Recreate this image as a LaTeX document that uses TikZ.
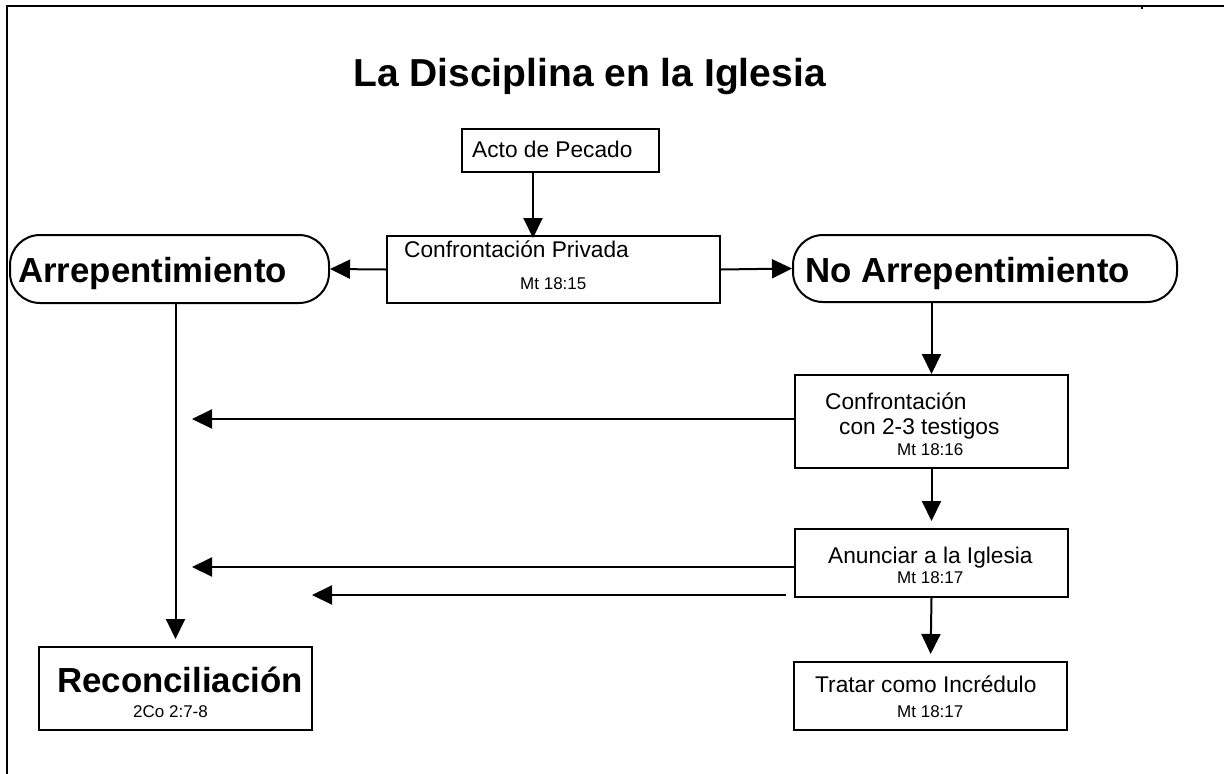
\documentclass[tikz,border=0pt]{standalone}
\usepackage{fontspec}
\setmainfont{Liberation Sans}
\usetikzlibrary{arrows.meta}
\tikzset{
  box/.style={draw, line width=2pt, inner sep=0pt, fill=white},
  rbox/.style={box, rounded corners=30pt},
  conn/.style={line width=2pt, -{Triangle[length=20pt,width=19pt]}},
  txt/.style={inner sep=0pt, anchor=base west, font=\fontsize{22.7}{27}\selectfont},
  ref/.style={inner sep=0pt, anchor=base west, font=\fontsize{17}{20}\selectfont},
  big/.style={inner sep=0pt, anchor=base west, font=\bfseries\fontsize{34.8}{40}\selectfont},
  ttl/.style={inner sep=0pt, anchor=base west, font=\bfseries\fontsize{39}{45}\selectfont}
}
\begin{document}
\begin{tikzpicture}[x=1pt,y=-1pt]
\useasboundingbox (0,0) rectangle (1224,774);
% frame
\draw[line width=2.5pt] (7,774) -- (7,6) -- (1224,6);
\draw[line width=2pt] (1142,6) -- (1142,9);
% title
\node[ttl] (title) at (353,86) {La Disciplina en la Iglesia};
% boxes
\node[box, minimum width=197pt, minimum height=43pt] (acto) at (560.5,150.5) {};
\node[box, minimum width=333pt, minimum height=67pt] (priv) at (553.5,269.5) {};
\node[rbox, minimum width=319pt, minimum height=68pt] (arr) at (169.5,269) {};
\node[rbox, minimum width=384pt, minimum height=67pt] (noarr) at (985,268.5) {};
\node[box, minimum width=273pt, minimum height=93pt] (test) at (931.5,421.5) {};
\node[box, minimum width=273pt, minimum height=68pt] (anun) at (931.5,563) {};
\node[box, minimum width=273pt, minimum height=68pt] (trat) at (930.5,696) {};
\node[box, minimum width=273pt, minimum height=83pt] (rec) at (175.5,688.5) {};
% texts
\node[txt] (tacto) at (472,157) {Acto de Pecado};
\node[txt] (tpriv) at (404,257) {Confrontación Privada};
\node[ref] (rpriv) at (520,289) {Mt 18:15};
\node[big] (tarr) at (18,282) {Arrepentimiento};
\node[big] (tnoarr) at (805,282) {No Arrepentimiento};
\node[txt] (ttest1) at (825,409) {Confrontación};
\node[txt] (ttest2) at (839,434) {con 2-3 testigos};
\node[ref] (rtest) at (897,455) {Mt 18:16};
\node[txt] (tanun) at (828,563) {Anunciar a la Iglesia};
\node[ref] (ranun) at (897,583) {Mt 18:17};
\node[txt] (ttrat) at (815,692) {Tratar como Incrédulo};
\node[ref] (rtrat) at (897,717) {Mt 18:17};
\node[big] (trec) at (57,692) {Reconciliación};
\node[ref] (rrec) at (133,717) {2Co 2:7-8};
% coordinates
\coordinate (xa) at (533,0);
\coordinate (l1) at (192,419);
\coordinate (l2) at (192,567);
\coordinate (s3) at (786,595);
\coordinate (l3) at (312,595);
% connectors
\draw[conn, shorten >=-3pt] (xa |- acto.south) -- (xa |- priv.north);
\draw[conn] (priv.west) -- (arr.east);
\draw[conn] (priv.east) -- (noarr.west);
\draw[conn] (test.north |- noarr.south) -- (test.north);
\draw[conn, shorten >=7pt] (test.south) -- (anun.north);
\draw[conn, shorten >=7pt] (anun.south) -- (trat.north);
\draw[conn, shorten >=7pt] (rec.north |- arr.south) -- (rec.north);
\draw[conn] (l1 -| test.west) -- (l1);
\draw[conn] (l2 -| anun.west) -- (l2);
\draw[conn] (s3) -- (l3);
\end{tikzpicture}
\end{document}
